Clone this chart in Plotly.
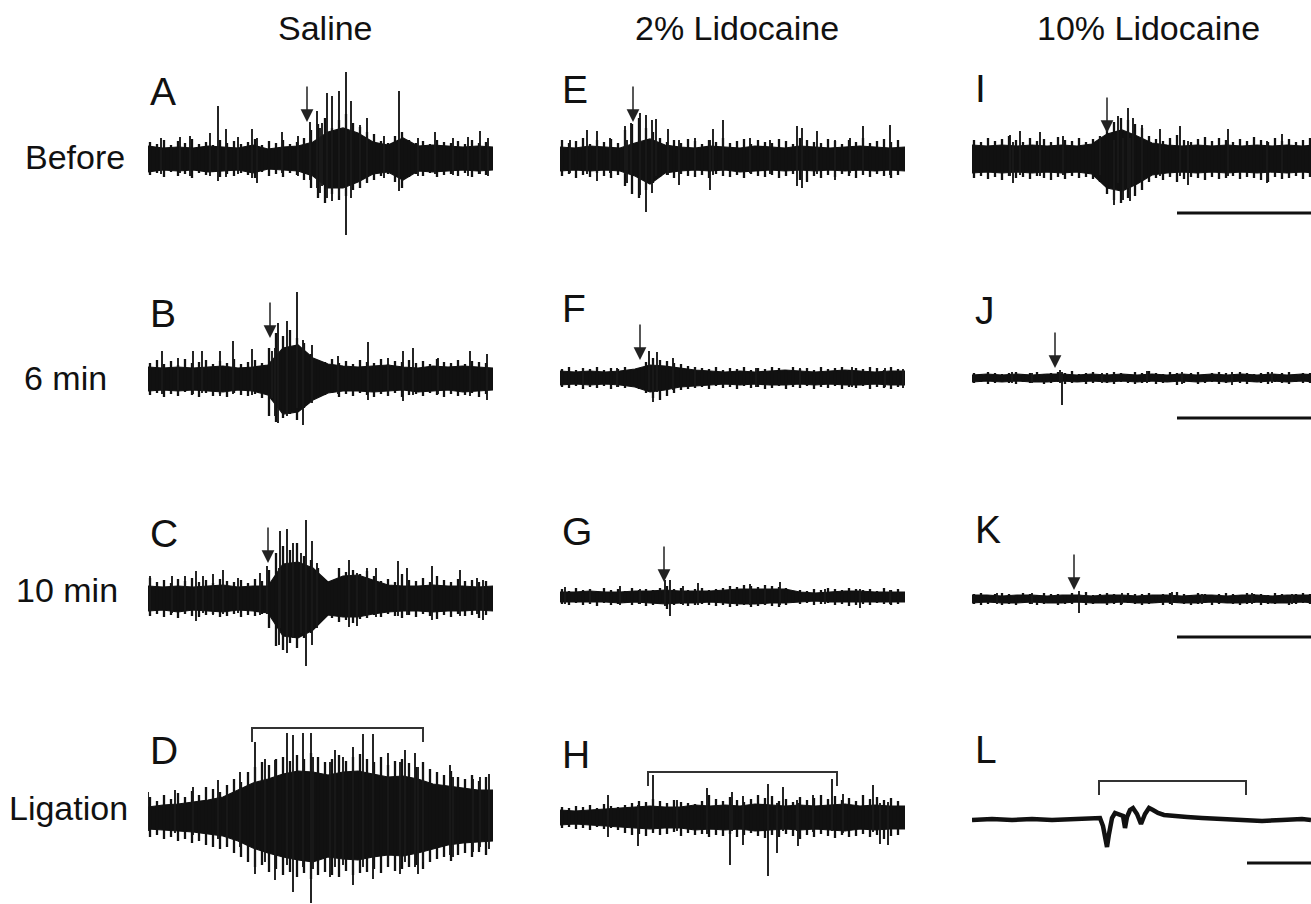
import plotly.graph_objects as go

W, H = 1311, 904

# ---------------- data (time in sweep units, amplitude in trace units) ----------------
BAND_T = list(range(0, 346, 15))   # 24 envelope sample times
HAIR_T = list(range(2, 345, 7))    # 49 noise-hair sample times

col_titles = ["Saline", "2% Lidocaine", "10% Lidocaine"]
row_labels = ["Before", "6 min", "10 min", "Ligation"]
panel_letters = ["A", "B", "C", "D", "E", "F", "G", "H", "I", "J", "K", "L"]

# solid noise-band envelopes
A_hi = [12, 10, 11, 10, 12, 11, 10, 13, 9, 11, 12, 16, 26, 30, 25, 16, 13, 20, 12, 13, 12, 11, 12, 11]
A_lo = [-14, -12, -13, -12, -14, -13, -12, -15, -11, -12, -13, -18, -30, -30, -24, -16, -14, -22, -13, -14, -13, -12, -13, -12]
B_hi = [11, 10, 11, 10, 11, 12, 10, 11, 13, 30, 33, 20, 14, 12, 11, 12, 13, 11, 10, 12, 11, 12, 11, 10]
B_lo = [-13, -12, -13, -12, -13, -14, -12, -13, -17, -36, -34, -22, -15, -13, -13, -14, -13, -12, -14, -13, -12, -14, -13, -12]
C_hi = [12, 11, 12, 11, 12, 13, 11, 12, 12, 34, 36, 30, 16, 22, 23, 18, 13, 12, 12, 13, 12, 12, 11, 12]
C_lo = [-13, -12, -14, -12, -13, -14, -12, -13, -15, -38, -40, -32, -17, -19, -19, -16, -14, -13, -13, -14, -13, -13, -12, -13]
D_hi = [10, 12, 13, 15, 17, 20, 27, 34, 38, 43, 46, 45, 42, 45, 46, 43, 40, 41, 38, 33, 31, 29, 27, 27]
D_lo = [-12, -13, -14, -15, -17, -19, -24, -31, -36, -40, -43, -45, -40, -42, -43, -40, -38, -39, -36, -32, -28, -26, -25, -24]
E_hi = [11, 10, 12, 11, 10, 15, 19, 13, 11, 10, 12, 11, 10, 12, 11, 10, 12, 11, 10, 11, 12, 11, 10, 11]
E_lo = [-13, -12, -13, -12, -13, -18, -26, -15, -13, -12, -13, -12, -14, -13, -12, -13, -12, -13, -12, -13, -12, -13, -12, -13]
F_hi = [7, 6, 7, 6, 7, 9, 13, 12, 10, 8, 7, 6, 7, 6, 7, 8, 7, 6, 7, 8, 7, 6, 7, 7]
F_lo = [-7, -6, -7, -6, -7, -9, -14, -12, -9, -8, -7, -6, -7, -6, -7, -7, -6, -7, -6, -7, -7, -6, -7, -7]
G_hi = [5, 5, 6, 5, 5, 6, 6, 7, 6, 6, 6, 7, 8, 8, 8, 8, 5, 4, 5, 6, 6, 5, 5, 5]
G_lo = [-5, -5, -5, -5, -6, -5, -6, -7, -6, -6, -5, -6, -7, -7, -6, -6, -5, -4, -5, -5, -5, -5, -5, -5]
H_hi = [7, 6, 7, 8, 9, 10, 11, 10, 10, 12, 11, 12, 11, 13, 12, 11, 12, 11, 12, 13, 11, 12, 11, 11]
H_lo = [-8, -7, -8, -9, -10, -11, -12, -11, -11, -13, -12, -13, -12, -14, -13, -12, -13, -12, -13, -14, -12, -13, -12, -12]
I_hi = [13, 12, 13, 12, 13, 12, 13, 12, 14, 24, 28, 22, 15, 13, 12, 13, 12, 13, 12, 13, 12, 13, 12, 13]
I_lo = [-15, -14, -15, -14, -15, -14, -15, -14, -16, -30, -33, -26, -17, -15, -14, -15, -14, -15, -14, -15, -14, -15, -14, -15]
J_hi = [3, 4, 3, 4, 3, 4, 4, 3, 4, 3, 4, 3, 4, 3, 4, 3, 4, 3, 4, 3, 4, 3, 4, 3]
J_lo = [-4, -3, -4, -3, -4, -4, -3, -4, -3, -4, -3, -4, -3, -4, -3, -4, -3, -4, -3, -4, -3, -4, -3, -4]
K_hi = [4, 4, 3, 4, 4, 3, 4, 4, 3, 4, 4, 3, 4, 4, 3, 4, 4, 3, 4, 4, 3, 4, 4, 4]
K_lo = [-4, -3, -4, -4, -3, -4, -4, -3, -4, -4, -3, -4, -4, -3, -4, -4, -3, -4, -4, -3, -4, -4, -3, -4]

# noise hairs at HAIR_T: upper and lower reach
A_hh = [16, 14, 18, 13, 17, 15, 19, 14, 16, 13, 18, 15, 17, 14, 16, 19, 13, 17, 15, 18, 14, 16, 20, 28, 34, 40, 30, 38, 44, 35, 31, 26, 24, 17, 15, 22, 26, 18, 15, 17, 14, 18, 16, 15, 17, 14, 18, 15, 16]
A_hl = [-17, -15, -19, -14, -18, -16, -20, -15, -17, -14, -19, -16, -18, -15, -17, -20, -14, -18, -16, -19, -15, -17, -22, -30, -40, -45, -36, -42, -38, -32, -30, -25, -22, -18, -16, -24, -30, -19, -16, -18, -15, -19, -17, -16, -18, -15, -19, -16, -17]
B_hh = [15, 18, 14, 17, 13, 19, 15, 16, 18, 14, 17, 15, 19, 14, 16, 18, 15, 30, 45, 42, 48, 40, 35, 24, 18, 16, 19, 15, 17, 14, 18, 16, 15, 19, 14, 17, 16, 18, 15, 17, 14, 19, 16, 15, 18, 14, 17, 16, 15]
B_hl = [-17, -15, -19, -16, -18, -14, -17, -19, -15, -18, -16, -19, -15, -17, -18, -16, -20, -38, -44, -40, -36, -42, -30, -22, -18, -17, -15, -19, -16, -18, -15, -17, -19, -16, -18, -15, -19, -17, -16, -18, -15, -17, -19, -16, -18, -17, -15, -19, -16]
C_hh = [20, 16, 18, 15, 19, 17, 20, 16, 18, 15, 19, 17, 16, 18, 15, 19, 17, 28, 45, 52, 48, 55, 42, 38, 30, 18, 16, 30, 26, 28, 24, 27, 22, 17, 19, 16, 24, 18, 17, 20, 16, 22, 18, 16, 19, 17, 18, 16, 17]
C_hl = [-18, -16, -19, -17, -20, -16, -18, -19, -17, -16, -19, -18, -16, -19, -17, -18, -16, -30, -48, -52, -45, -50, -40, -35, -25, -18, -20, -24, -22, -25, -21, -20, -17, -19, -16, -18, -20, -17, -19, -16, -18, -21, -17, -19, -16, -18, -17, -20, -17]
D_hh = [20, 16, 22, 18, 24, 20, 26, 22, 30, 28, 25, 32, 38, 35, 45, 50, 55, 52, 58, 60, 56, 62, 58, 64, 60, 55, 58, 62, 56, 60, 63, 58, 55, 60, 52, 56, 58, 54, 50, 55, 48, 45, 42, 46, 40, 38, 42, 36, 40]
D_hl = [-20, -18, -22, -20, -24, -22, -26, -24, -28, -30, -32, -30, -36, -40, -45, -50, -48, -55, -52, -58, -55, -60, -56, -62, -58, -55, -58, -60, -54, -58, -56, -55, -52, -56, -50, -54, -52, -50, -48, -52, -45, -42, -40, -44, -38, -36, -40, -35, -38]
E_hh = [18, 15, 17, 20, 14, 18, 16, 19, 15, 28, 34, 40, 30, 26, 20, 16, 18, 15, 19, 17, 14, 18, 16, 20, 15, 17, 19, 14, 18, 16, 15, 19, 17, 14, 20, 18, 16, 15, 19, 17, 14, 18, 16, 20, 15, 17, 19, 16, 18]
E_hl = [-18, -16, -20, -17, -19, -15, -18, -20, -17, -28, -36, -40, -32, -25, -19, -17, -20, -16, -18, -19, -17, -20, -16, -18, -19, -17, -20, -16, -18, -19, -17, -20, -18, -16, -22, -24, -18, -20, -17, -19, -16, -18, -20, -17, -19, -16, -18, -20, -17]
F_hh = [9, 11, 8, 10, 9, 11, 8, 10, 9, 11, 8, 10, 16, 20, 18, 17, 15, 14, 12, 11, 10, 9, 11, 8, 10, 9, 11, 8, 10, 9, 11, 10, 8, 11, 9, 10, 8, 11, 9, 10, 11, 8, 10, 9, 11, 10, 8, 11, 9]
F_hl = [-9, -10, -8, -11, -9, -10, -8, -11, -9, -10, -8, -11, -15, -20, -22, -18, -15, -12, -11, -10, -9, -11, -8, -10, -9, -11, -8, -10, -9, -11, -10, -8, -11, -9, -10, -8, -11, -9, -10, -8, -11, -9, -10, -8, -11, -9, -10, -11, -9]
G_hh = [8, 6, 9, 7, 8, 6, 9, 7, 8, 6, 9, 7, 8, 7, 9, 11, 8, 9, 7, 8, 9, 7, 8, 9, 11, 10, 12, 11, 10, 12, 11, 10, 9, 6, 7, 6, 8, 7, 9, 8, 7, 9, 8, 7, 8, 6, 9, 7, 8]
G_hl = [-7, -8, -6, -8, -7, -9, -6, -8, -7, -6, -8, -7, -9, -8, -7, -12, -8, -7, -9, -8, -7, -8, -9, -8, -10, -9, -8, -10, -9, -8, -9, -10, -8, -6, -7, -6, -8, -7, -6, -8, -7, -9, -8, -7, -8, -6, -7, -8, -7]
H_hh = [10, 9, 11, 10, 12, 9, 13, 11, 10, 12, 14, 16, 15, 18, 16, 14, 17, 15, 14, 13, 16, 22, 18, 16, 20, 17, 15, 18, 22, 19, 21, 16, 18, 15, 20, 17, 19, 22, 18, 21, 17, 19, 16, 22, 18, 20, 17, 19, 16]
H_hl = [-11, -10, -12, -11, -13, -10, -12, -11, -13, -16, -18, -17, -19, -16, -18, -17, -15, -19, -16, -18, -17, -20, -18, -19, -17, -20, -18, -16, -19, -21, -18, -20, -17, -19, -22, -18, -20, -17, -19, -21, -18, -20, -19, -17, -20, -18, -22, -19, -18]
I_hh = [18, 16, 20, 17, 19, 22, 18, 16, 20, 17, 19, 16, 21, 18, 17, 20, 16, 19, 22, 30, 36, 40, 38, 34, 30, 22, 19, 17, 20, 23, 18, 16, 19, 21, 17, 20, 18, 16, 19, 17, 21, 18, 16, 20, 17, 19, 16, 18, 20]
I_hl = [-20, -18, -21, -19, -22, -18, -20, -19, -21, -18, -20, -22, -19, -21, -18, -20, -19, -21, -24, -36, -42, -45, -40, -38, -32, -24, -20, -22, -19, -24, -21, -19, -20, -22, -19, -21, -20, -18, -21, -19, -20, -22, -24, -19, -21, -20, -18, -21, -19]
J_hh = [5, 4, 6, 5, 4, 5, 6, 4, 5, 6, 4, 5, 6, 5, 7, 4, 5, 6, 4, 5, 6, 5, 4, 6, 5, 7, 5, 4, 6, 5, 4, 5, 6, 4, 5, 6, 5, 4, 6, 5, 4, 5, 6, 4, 5, 6, 4, 5, 5]
J_hl = [-5, -4, -6, -5, -4, -5, -6, -4, -5, -4, -6, -5, -4, -6, -5, -4, -6, -5, -4, -5, -6, -4, -5, -6, -5, -4, -6, -5, -4, -7, -5, -4, -6, -5, -4, -6, -5, -4, -5, -6, -4, -5, -6, -4, -5, -6, -4, -5, -5]
K_hh = [5, 6, 4, 5, 6, 5, 4, 6, 5, 4, 6, 5, 5, 4, 6, 5, 7, 4, 5, 6, 5, 4, 6, 5, 5, 6, 4, 5, 6, 7, 5, 4, 6, 5, 4, 5, 6, 5, 4, 6, 5, 5, 4, 6, 5, 4, 5, 6, 5]
K_hl = [-5, -6, -5, -4, -6, -5, -6, -4, -5, -6, -5, -4, -6, -5, -5, -4, -6, -5, -4, -6, -5, -6, -4, -5, -6, -5, -4, -6, -5, -4, -5, -6, -5, -4, -6, -5, -4, -5, -6, -5, -4, -6, -5, -5, -4, -6, -5, -4, -5]

# large spikes: time, upper tip, lower tip
A_st = [13, 32, 42, 62, 70, 78, 90, 104, 109, 134, 150, 162, 169, 172, 174, 179, 184, 191, 198, 203, 212, 219, 236, 251, 270, 287, 305, 320, 332, 340]
A_sh = [20, 21, 22, 25, 52, 29, 21, 29, 20, 26, 22, 36, 47, 30, 35, 65, 62, 67, 86, 57, 33, 40, 22, 67, 20, 26, 20, 21, 27, 20]
A_sl = [-16, -15, -18, -18, -23, -19, -16, -20, -25, -15, -18, -22, -30, -35, -28, -40, -43, -38, -77, -40, -30, -25, -20, -33, -18, -16, -17, -18, -16, -18]
B_st = [14, 30, 45, 54, 72, 85, 104, 124, 127, 130, 139, 149, 155, 164, 190, 220, 240, 255, 265, 290, 322, 339]
B_sh = [27, 20, 27, 27, 27, 37, 29, 27, 30, 55, 57, 86, 38, 33, 22, 36, 20, 27, 30, 20, 27, 24]
B_sl = [-16, -15, -16, -15, -18, -16, -17, -20, -38, -45, -38, -30, -47, -25, -16, -22, -18, -23, -17, -16, -18, -22]
C_st = [2, 24, 37, 48, 55, 65, 75, 90, 112, 119, 131, 132, 139, 145, 153, 158, 164, 169, 201, 209, 219, 228, 250, 259, 284, 312, 329, 335]
C_sh = [22, 22, 22, 27, 22, 24, 28, 20, 25, 32, 30, 67, 69, 55, 45, 78, 57, 35, 38, 25, 30, 30, 37, 30, 32, 28, 20, 18]
C_sl = [-16, -15, -16, -23, -15, -17, -16, -15, -17, -16, -47, -30, -55, -40, -35, -68, -47, -30, -29, -28, -20, -19, -18, -17, -22, -18, -16, -22]
D_st = [0, 27, 45, 70, 79, 92, 107, 117, 127, 139, 145, 155, 163, 165, 182, 187, 195, 205, 215, 225, 240, 252, 257, 267, 270, 275, 302, 305, 325, 332, 341]
D_sh = [25, 27, 30, 37, 25, 45, 75, 58, 57, 84, 82, 84, 84, 60, 55, 67, 60, 70, 83, 83, 64, 55, 67, 64, 50, 48, 52, 40, 38, 40, 43]
D_sl = [-14, -16, -18, -22, -27, -30, -57, -45, -63, -48, -75, -50, -86, -52, -60, -50, -48, -68, -50, -62, -48, -57, -45, -50, -57, -45, -38, -40, -35, -30, -32]
E_st = [10, 27, 37, 50, 65, 67, 71, 80, 86, 92, 96, 108, 119, 135, 150, 153, 163, 190, 210, 237, 242, 257, 275, 290, 303, 330]
E_sh = [18, 28, 27, 20, 32, 18, 35, 45, 43, 38, 39, 29, 18, 20, 18, 29, 38, 20, 18, 32, 30, 27, 18, 20, 32, 33]
E_sl = [-15, -16, -23, -15, -16, -25, -17, -37, -54, -35, -18, -17, -27, -15, -32, -17, -16, -15, -16, -28, -30, -16, -22, -15, -16, -17]
F_st = [23, 57, 89, 93, 97, 113, 135, 196, 240, 292, 325, 343]
F_sh = [10, 10, 27, 14, 26, 20, 11, 10, 10, 11, 10, 9]
F_sl = [-9, -9, -12, -24, -14, -12, -10, -9, -9, -9, -9, -10]
G_st = [5, 30, 60, 80, 105, 110, 123, 138, 170, 190, 205, 220, 265, 300, 330]
G_sh = [10, 8, 11, 8, 17, 17, 11, 14, 10, 13, 11, 15, 8, 8, 7]
G_sl = [-7, -7, -8, -7, -9, -19, -8, -8, -8, -8, -8, -8, -7, -11, -7]
H_st = [48, 78, 93, 117, 147, 170, 172, 183, 208, 217, 223, 237, 238, 253, 272, 283, 313, 320, 328]
H_sh = [22, 12, 42, 17, 29, 12, 25, 21, 33, 14, 30, 17, 14, 22, 38, 23, 32, 14, 15]
H_sl = [-20, -29, -12, -14, -17, -48, -14, -28, -59, -36, -14, -14, -29, -15, -14, -16, -15, -27, -28]
I_st = [38, 41, 48, 68, 91, 128, 142, 146, 151, 156, 158, 161, 170, 188, 208, 216, 256, 295, 310]
I_sh = [23, 16, 27, 26, 22, 22, 18, 42, 20, 50, 20, 40, 33, 29, 32, 17, 29, 17, 24]
I_sl = [-18, -25, -17, -18, -17, -17, -47, -25, -42, -30, -43, -28, -22, -18, -18, -27, -18, -25, -17]
J_st = [40, 60, 88, 90, 130, 175, 210, 260, 300]
J_sh = [6, 5, 8, 6, 5, 7, 6, 6, 6]
J_sl = [-5, -5, -5, -27, -5, -5, -6, -7, -5]
K_st = [25, 60, 107, 150, 200, 230, 280, 320]
K_sh = [6, 6, 8, 6, 7, 5, 6, 5]
K_sl = [-5, -5, -14, -5, -6, -5, -5, -5]

# panel L: slow trace
L_t = [0, 20, 40, 60, 80, 100, 120, 128, 131, 133, 135, 137, 140, 143, 147, 151, 153, 155, 158, 161, 165, 169, 173, 177, 181, 186, 192, 200, 215, 230, 250, 270, 290, 310, 330, 339]
L_v = [0, 1, 0, 1, 0, 1, 1, 2, -6, -18, -27, -14, 2, 7, 5, 4, -8, 3, 10, 12, 6, -4, 6, 12, 10, 7, 5, 4, 3, 2, 1, 0, -1, 0, 1, 0]

# stimulus arrows: panel, time, tip amplitude
arrow_panel = ["A", "B", "C", "E", "F", "G", "I", "J", "K"]
arrow_t = [159, 122, 120, 73, 80, 104, 135, 83, 102]
arrow_tip = [36, 40, 35, 36, 18, 15, 25, 10, 9]

# ligation brackets: panel, start, end, top, tick end
brk_panel = ["D", "H", "L"]
brk_t0 = [104, 88, 127]
brk_t1 = [275, 277, 274]
brk_top = [89, 45, 39]
brk_end = [75, 31, 25]

# scale bars (column 3)
sb_panel = ["I", "J", "K", "L"]
sb_t0 = [205, 205, 205, 275]
sb_len = [200, 200, 200, 200]
sb_y = [-55, -40, -38, -43]

# ---------------- layout geometry (pixels) ----------------
col_x0 = [148, 560, 972]
SWEEP = 345
base_px = {"A": 158, "B": 378, "C": 598, "D": 817,
           "E": 158, "F": 378, "G": 597, "H": 817,
           "I": 158, "J": 378, "K": 599, "L": 820}
UP = 108

bands = {"A": (A_hi, A_lo), "B": (B_hi, B_lo), "C": (C_hi, C_lo), "D": (D_hi, D_lo),
         "E": (E_hi, E_lo), "F": (F_hi, F_lo), "G": (G_hi, G_lo), "H": (H_hi, H_lo),
         "I": (I_hi, I_lo), "J": (J_hi, J_lo), "K": (K_hi, K_lo)}
hairs = {"A": (A_hh, A_hl), "B": (B_hh, B_hl), "C": (C_hh, C_hl), "D": (D_hh, D_hl),
         "E": (E_hh, E_hl), "F": (F_hh, F_hl), "G": (G_hh, G_hl), "H": (H_hh, H_hl),
         "I": (I_hh, I_hl), "J": (J_hh, J_hl), "K": (K_hh, K_hl)}
spikes = {"A": (A_st, A_sh, A_sl), "B": (B_st, B_sh, B_sl), "C": (C_st, C_sh, C_sl),
          "D": (D_st, D_sh, D_sl), "E": (E_st, E_sh, E_sl), "F": (F_st, F_sh, F_sl),
          "G": (G_st, G_sh, G_sl), "H": (H_st, H_sh, H_sl), "I": (I_st, I_sh, I_sl),
          "J": (J_st, J_sh, J_sl), "K": (K_st, K_sh, K_sl)}

fig = go.Figure()
axis_of = {}
INK = "#111111"


def segments(ts, his, los):
    sx, sy = [], []
    for t, h_, l_ in zip(ts, his, los):
        sx += [t, t, None]
        sy += [l_, h_, None]
    return sx, sy


for i, letter in enumerate(panel_letters):
    n = i + 1
    col = i // 4
    x0 = col_x0[col]
    x1 = min(x0 + SWEEP, W)
    b = base_px[letter]
    top_px = b - UP
    bot_px = min(b + UP, H)
    down = bot_px - b
    xa = "xaxis" if n == 1 else f"xaxis{n}"
    ya = "yaxis" if n == 1 else f"yaxis{n}"
    xr = "x" if n == 1 else f"x{n}"
    yr = "y" if n == 1 else f"y{n}"
    axis_of[letter] = (xr, yr)
    fig.update_layout(**{
        xa: dict(domain=[x0 / W, x1 / W], range=[0, x1 - x0], visible=False,
                 anchor=yr, fixedrange=True),
        ya: dict(domain=[(H - bot_px) / H, (H - top_px) / H], range=[-down, UP],
                 visible=False, anchor=xr, fixedrange=True),
    })

    if letter in bands:
        hi, lo = bands[letter]
        fig.add_trace(go.Scatter(
            x=BAND_T + BAND_T[::-1], y=hi + lo[::-1], xaxis=xr, yaxis=yr,
            mode="lines", fill="toself", fillcolor=INK,
            line=dict(color=INK, width=1.2), hoverinfo="skip", showlegend=False))
        hh, hl = hairs[letter]
        hx, hy = segments(HAIR_T, hh, hl)
        fig.add_trace(go.Scatter(
            x=hx, y=hy, xaxis=xr, yaxis=yr, mode="lines",
            line=dict(color=INK, width=2.3), hoverinfo="skip", showlegend=False))
        st, sh, sl = spikes[letter]
        sx, sy = segments(st, sh, sl)
        fig.add_trace(go.Scatter(
            x=sx, y=sy, xaxis=xr, yaxis=yr, mode="lines",
            line=dict(color="#1a1a1a", width=1.9), hoverinfo="skip", showlegend=False))
    else:
        fig.add_trace(go.Scatter(
            x=L_t, y=L_v, xaxis=xr, yaxis=yr, mode="lines",
            line=dict(color=INK, width=4.5),
            hoverinfo="skip", showlegend=False))

# arrows
for p, t, tip in zip(arrow_panel, arrow_t, arrow_tip):
    xr, yr = axis_of[p]
    fig.add_annotation(x=t, y=tip, xref=xr, yref=yr, text="", showarrow=True,
                       ax=0, ay=-37, arrowhead=2, arrowsize=1.7, arrowwidth=1.5,
                       arrowcolor="#222222", standoff=0)

# brackets
for p, t0, t1, top, end in zip(brk_panel, brk_t0, brk_t1, brk_top, brk_end):
    xr, yr = axis_of[p]
    fig.add_trace(go.Scatter(x=[t0, t0, t1, t1], y=[end, top, top, end], xaxis=xr, yaxis=yr,
                             mode="lines", line=dict(color="#333333", width=2),
                             hoverinfo="skip", showlegend=False))

# scale bars
for p, t0, ln, y in zip(sb_panel, sb_t0, sb_len, sb_y):
    xr, yr = axis_of[p]
    fig.add_trace(go.Scatter(x=[t0, t0 + ln], y=[y, y], xaxis=xr, yaxis=yr,
                             mode="lines", line=dict(color=INK, width=3),
                             hoverinfo="skip", showlegend=False))

FONT = "Liberation Sans, Arial, sans-serif"
for cx, title in zip([325, 737, 1148], col_titles):
    fig.add_annotation(x=cx / W, y=1 - 28 / H, xref="paper", yref="paper", text=title,
                       showarrow=False, xanchor="center", yanchor="middle",
                       font=dict(family=FONT, size=34, color="#111"))
for (cx, cy), lab in zip([(75, 157), (65, 378), (67, 590), (68, 808)], row_labels):
    fig.add_annotation(x=cx / W, y=1 - cy / H, xref="paper", yref="paper", text=lab,
                       showarrow=False, xanchor="center", yanchor="middle",
                       font=dict(family=FONT, size=34, color="#111"))
letter_cy = [91, 314, 533, 750, 90, 308, 531, 754, 89, 310, 529, 749]
for i, letter in enumerate(panel_letters):
    lx = col_x0[i // 4] + (0 if i // 4 < 2 else 1)
    fig.add_annotation(x=lx / W, y=1 - letter_cy[i] / H, xref="paper", yref="paper",
                       text=letter, showarrow=False, xanchor="left", yanchor="middle",
                       font=dict(family=FONT, size=39, color="#111"))

fig.update_layout(width=W, height=H, margin=dict(l=0, r=0, t=0, b=0),
                  paper_bgcolor="white", plot_bgcolor="white", showlegend=False)

fig.write_html("out.html", config={"displayModeBar": False},
               post_script="document.body.style.margin='0';document.body.style.overflow='hidden';")
